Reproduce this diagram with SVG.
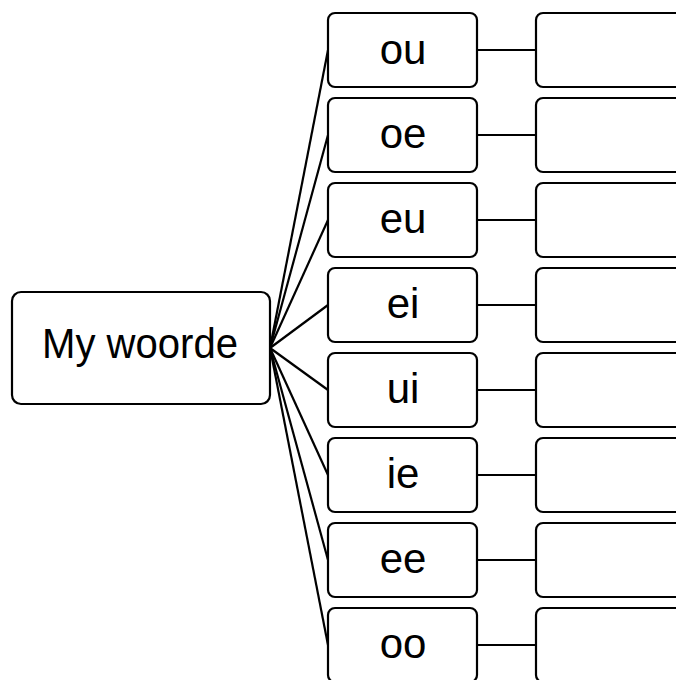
<svg xmlns="http://www.w3.org/2000/svg" width="676" height="680" viewBox="0 0 676 680">
<style>
.box{fill:#fff;stroke:#000;stroke-width:2.2}
.ln{stroke:#000;stroke-width:2.2;fill:none}
.lbl{font-family:"Liberation Sans",Arial,sans-serif;font-size:42px;text-anchor:middle;fill:#000}
.main{font-family:"Liberation Sans",Arial,sans-serif;font-size:42px;text-anchor:middle;fill:#000}
</style>
<rect width="676" height="680" fill="#fff"/>
<g id="connectors">
<line class="ln" x1="270" y1="348" x2="328" y2="50"/>
<line class="ln" x1="270" y1="348" x2="328" y2="135"/>
<line class="ln" x1="270" y1="348" x2="328" y2="220"/>
<line class="ln" x1="270" y1="348" x2="328" y2="305"/>
<line class="ln" x1="270" y1="348" x2="328" y2="390"/>
<line class="ln" x1="270" y1="348" x2="328" y2="475"/>
<line class="ln" x1="270" y1="348" x2="328" y2="560"/>
<line class="ln" x1="270" y1="348" x2="328" y2="645"/>
<line class="ln" x1="477" y1="50" x2="536" y2="50"/>
<line class="ln" x1="477" y1="135" x2="536" y2="135"/>
<line class="ln" x1="477" y1="220" x2="536" y2="220"/>
<line class="ln" x1="477" y1="305" x2="536" y2="305"/>
<line class="ln" x1="477" y1="390" x2="536" y2="390"/>
<line class="ln" x1="477" y1="475" x2="536" y2="475"/>
<line class="ln" x1="477" y1="560" x2="536" y2="560"/>
<line class="ln" x1="477" y1="645" x2="536" y2="645"/>
</g>
<g id="main">
<rect class="box" x="12" y="292" width="258" height="112" rx="9"/>
<text class="main" x="140" y="358" textLength="196" lengthAdjust="spacingAndGlyphs">My woorde</text>
</g>
<g id="n-ou"><rect class="box" x="328" y="13" width="149" height="74" rx="7"/><text class="lbl" x="403" y="64">ou</text></g>
<g id="n-oe"><rect class="box" x="328" y="98" width="149" height="74" rx="7"/><text class="lbl" x="403" y="148">oe</text></g>
<g id="n-eu"><rect class="box" x="328" y="183" width="149" height="74" rx="7"/><text class="lbl" x="403" y="233">eu</text></g>
<g id="n-ei"><rect class="box" x="328" y="268" width="149" height="74" rx="7"/><text class="lbl" x="403" y="318">ei</text></g>
<g id="n-ui"><rect class="box" x="328" y="353" width="149" height="74" rx="7"/><text class="lbl" x="403" y="403">ui</text></g>
<g id="n-ie"><rect class="box" x="328" y="438" width="149" height="74" rx="7"/><text class="lbl" x="403" y="488">ie</text></g>
<g id="n-ee"><rect class="box" x="328" y="523" width="149" height="74" rx="7"/><text class="lbl" x="403" y="573">ee</text></g>
<g id="n-oo"><rect class="box" x="328" y="608" width="149" height="74" rx="7"/><text class="lbl" x="403" y="658">oo</text></g>
<g id="r-ou"><rect class="box" x="536" y="13" width="160" height="74" rx="7"/></g>
<g id="r-oe"><rect class="box" x="536" y="98" width="160" height="74" rx="7"/></g>
<g id="r-eu"><rect class="box" x="536" y="183" width="160" height="74" rx="7"/></g>
<g id="r-ei"><rect class="box" x="536" y="268" width="160" height="74" rx="7"/></g>
<g id="r-ui"><rect class="box" x="536" y="353" width="160" height="74" rx="7"/></g>
<g id="r-ie"><rect class="box" x="536" y="438" width="160" height="74" rx="7"/></g>
<g id="r-ee"><rect class="box" x="536" y="523" width="160" height="74" rx="7"/></g>
<g id="r-oo"><rect class="box" x="536" y="608" width="160" height="74" rx="7"/></g>
</svg>
